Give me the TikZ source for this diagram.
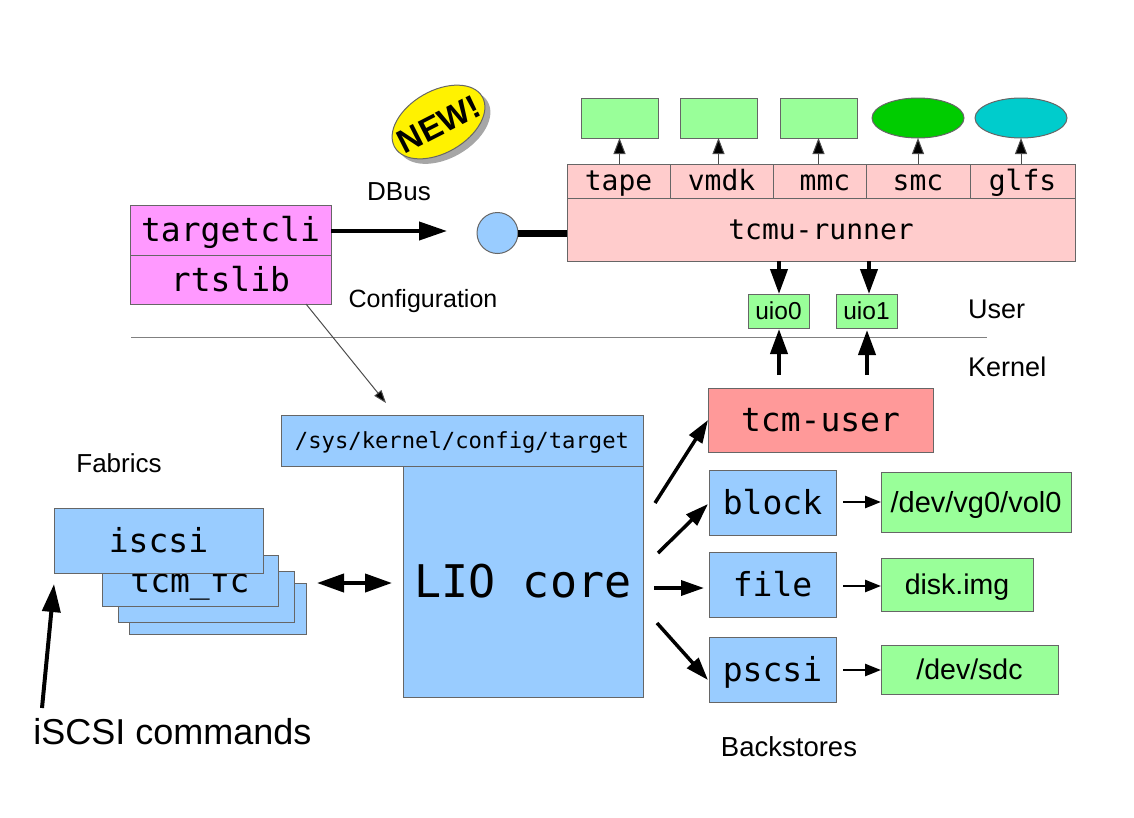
\documentclass[tikz,border=0pt]{standalone}
\usepackage{fontspec}
\setmainfont{Liberation Sans}
\setmonofont{DejaVu Sans Mono}
\usetikzlibrary{arrows.meta,shapes.geometric}
\newcommand{\fsize}[1]{\fontsize{#1}{#1}\selectfont}
\definecolor{lioblue}{HTML}{99CCFF}
\definecolor{liopink}{HTML}{FFCCCC}
\definecolor{liored}{HTML}{FF9999}
\definecolor{liogreen}{HTML}{99FF99}
\definecolor{liomagenta}{HTML}{FF99FF}
\definecolor{smcgreen}{HTML}{00CC00}
\definecolor{glfscyan}{HTML}{00CCCC}
\begin{document}
\begin{tikzpicture}[x=1pt,y=-1pt,
	box/.style = {draw=black!60,line width=1pt,rectangle,inner sep=0pt,outer sep=0pt},
	sized/.style n args = {2}{minimum width=#1pt,minimum height=#2pt},
	mono/.style = {font=\ttfamily\fsize{#1},text height=0.84*#1 pt,text depth=0.14*#1 pt},
	sans/.style = {font=\fsize{#1},inner sep=0pt,text height=0.84*#1 pt,text depth=0.14*#1 pt},
	tinyarrow/.style = {draw=black!70,line width=1pt,-{Triangle[length=16pt,width=12pt,fill=black]}},
	linkarrow/.style = {line width=3.5pt,-{Triangle[length=23pt,width=15pt]}},
	smallarrow/.style = {line width=2.5pt,-{Triangle[length=16pt,width=12pt]}},
	bigarrow/.style = {line width=4pt,-{Triangle[length=25pt,width=17pt]}},
	longarrow/.style = {line width=4pt,-{Triangle[length=28pt,width=18pt]}}]
	\useasboundingbox (0,0) rectangle (1134,817);

	% configuration side
	\node[box,fill=liomagenta,sized={201}{50},mono=33] (targetcli) at (230.5,230) {targetcli};
	\node[box,fill=liomagenta,sized={201}{49},mono=33] (rtslib) at (230.5,279.5) {rtslib};
	\node[sans=26] (dbus) at (399,191) {DBus};
	\node[sans=25] (config) at (423,299) {Configuration};
	\node[ellipse,fill=black!35,rotate=30,sized={101}{62},inner sep=0pt] (newshadow) at (444,127) {};
	\node[box,ellipse,fill=yellow,rotate=30,sized={101}{62}] (newbadge) at (438.5,122) {};
	\node[rotate=27,inner sep=0pt,font=\bfseries\fsize{33}] (newtext) at (439,124) {NEW!};

	% tcmu-runner and its handlers
	\node[box,fill=liopink,sized={508}{63},mono=28] (runner) at (821,229.5) {tcmu-runner};
	\node[box,fill=liopink,sized={103}{34},mono=28] (tape) at (618.5,181) {tape};
	\node[box,fill=liopink,sized={103}{34},mono=28] (vmdk) at (721.5,181) {vmdk};
	\node[box,fill=liopink,sized={93}{34},mono=28] (mmc) at (819.5,181) {\hspace*{11pt}mmc};
	\node[box,fill=liopink,sized={104}{34},mono=28] (smc) at (918,181) {smc};
	\node[box,fill=liopink,sized={105}{34},mono=28] (glfs) at (1022.5,181) {glfs};
	\node[box,fill=liogreen,sized={77}{40}] (tapeout) at (619.5,118) {};
	\node[box,fill=liogreen,sized={77}{40}] (vmdkout) at (718.5,118) {};
	\node[box,fill=liogreen,sized={77}{40}] (mmcout) at (818.5,118) {};
	\node[box,ellipse,fill=smcgreen,sized={92}{40}] (smcout) at (918,118) {};
	\node[box,ellipse,fill=glfscyan,sized={92}{40}] (glfsout) at (1021,118) {};
	\draw[tinyarrow] (tapeout.south |- tape.north) -- (tapeout.south);
	\draw[tinyarrow] (vmdkout.south |- vmdk.north) -- (vmdkout.south);
	\draw[tinyarrow] (mmcout.south |- mmc.north) -- (mmcout.south);
	\draw[tinyarrow] (smcout.south |- smc.north) -- (smcout.south);
	\draw[tinyarrow] (glfsout.south |- glfs.north) -- (glfsout.south);

	\node[box,circle,fill=lioblue,minimum size=41pt] (dbusport) at (497.5,233) {};
	\coordinate (dbusend) at (447,231);
	\draw[longarrow] (targetcli.east |- dbusend) -- (dbusend);
	\draw[line width=7pt] (dbusport.east) -- (dbusport.east -| runner.west);

	% uio devices and the user/kernel line
	\node[box,fill=liogreen,sized={61}{34},sans=24.5] (uio0) at (778.5,311) {uio0};
	\node[box,fill=liogreen,sized={61}{34},sans=24.5] (uio1) at (866.5,311) {uio1};
	\coordinate (rundown0) at (779,261);
	\coordinate (rundown1) at (869,261);
	\coordinate (uiotop0) at (779,294);
	\coordinate (uiotop1) at (869,294);
	\draw[bigarrow] (rundown0) -- (uiotop0);
	\draw[bigarrow] (rundown1) -- (uiotop1);
	\coordinate (userleft) at (131,337);
	\coordinate (userright) at (987,337);
	\draw[black!50,line width=1pt] (userleft) -- (userright);
	\node[sans=27,anchor=west] (user) at (968,309) {User};
	\node[sans=27,anchor=west] (kernel) at (968,367) {Kernel};
	\coordinate (kernup0) at (779,375);
	\coordinate (kernup1) at (867,375);
	\coordinate (uiobot0) at (779,329);
	\coordinate (uiobot1) at (867,330);
	\draw[bigarrow] (kernup0) -- (uiobot0);
	\draw[bigarrow] (kernup1) -- (uiobot1);

	% LIO core
	\node[box,fill=lioblue,sized={362}{51},mono=22.2] (sysfs) at (462,440.5) {/sys/kernel/config/target};
	\node[box,fill=lioblue,sized={240}{231},mono=45] (core) at (523,581.5) {LIO core};
	\coordinate (rtsout) at (306,304);
	\coordinate (sysin) at (386,403);
	\draw[black!70,line width=1pt,-{Triangle[length=13pt,width=9pt,fill=black]}] (rtsout) -- (sysin);

	% backstores
	\node[box,fill=liored,sized={225}{64},mono=33] (tcmuser) at (820.5,420) {tcm-user};
	\node[box,fill=lioblue,sized={127}{65},mono=33] (block) at (772.5,502.5) {block};
	\node[box,fill=lioblue,sized={127}{65},mono=33] (file) at (772.5,584.5) {file};
	\node[box,fill=lioblue,sized={127}{65},mono=33] (pscsi) at (772.5,669.5) {pscsi};
	\node[box,fill=liogreen,sized={190}{60},sans=29] (vol) at (976,502) {/dev/vg0/vol0};
	\node[box,fill=liogreen,sized={152}{53},sans=28.5] (img) at (957,584.5) {disk.img};
	\node[box,fill=liogreen,sized={177}{49},sans=28.5] (sdc) at (969.5,669.5) {/dev/sdc};
	\node[sans=27.5] (backstores) at (789,747) {Backstores};
	\coordinate (out1) at (655,503);
	\coordinate (out2) at (658,553);
	\coordinate (out3) at (654,588);
	\coordinate (out4) at (657,623);
	\coordinate (in1) at (708,420);
	\coordinate (in2) at (708,504);
	\coordinate (in3) at (704,588);
	\coordinate (in4) at (708,680);
	\draw[linkarrow] (out1) -- (in1);
	\draw[linkarrow] (out2) -- (in2);
	\draw[linkarrow] (out3) -- (in3);
	\draw[linkarrow] (out4) -- (in4);
	\coordinate (blockr) at (843,502);
	\coordinate (filer) at (843,586);
	\coordinate (pscsir) at (843,670);
	\draw[smallarrow] (blockr) -- (blockr -| vol.west);
	\draw[smallarrow] (filer) -- (filer -| img.west);
	\draw[smallarrow] (pscsir) -- (pscsir -| sdc.west);

	% fabrics
	\node[sans=26] (fabrics) at (119,463) {Fabrics};
	\node[box,fill=lioblue,sized={176.5}{51}] (fabric3) at (218,608.5) {};
	\node[box,fill=lioblue,sized={176}{51}] (fabric2) at (206,596.5) {};
	\node[box,fill=lioblue,sized={176}{51},mono=33] (fabric1) at (190,580.5) {tcm\_fc};
	\node[box,fill=lioblue,sized={209}{65},mono=33] (iscsi) at (158.5,540.5) {iscsi};
	\coordinate (fableft) at (317,583);
	\coordinate (fabright) at (392,583);
	\draw[line width=4pt,{Triangle[length=27pt,width=18pt]}-{Triangle[length=27pt,width=18pt]}] (fableft) -- (fabright);
	\node[sans=36] (cmds) at (172.5,732) {iSCSI commands};
	\coordinate (cmdstart) at (42,708);
	\coordinate (cmdend) at (54,584);
	\draw[longarrow] (cmdstart) -- (cmdend);
\end{tikzpicture}
\end{document}
